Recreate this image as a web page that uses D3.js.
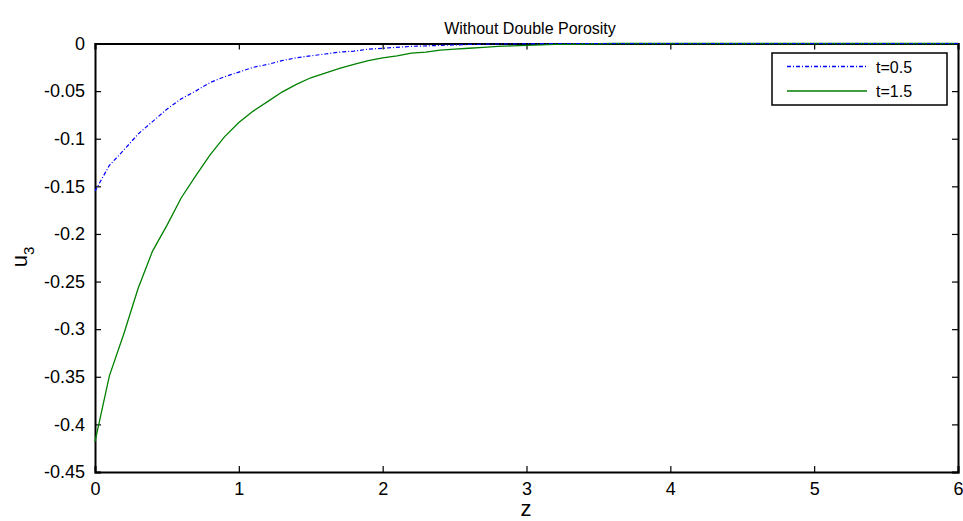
<!DOCTYPE html>
<html>
<head>
<meta charset="utf-8">
<script src="https://cdn.jsdelivr.net/npm/d3@7/dist/d3.min.js"></script>
<style>
body{margin:0;background:#fff;}
text{font-family:"Liberation Sans",Arial,sans-serif;fill:#000;}
</style>
</head>
<body>
<svg id="svg" width="963" height="521"></svg>
<script>
// data
var zA=[0,0.1,0.2,0.3,0.4,0.5,0.6,0.7,0.8,0.9,1.0,1.1,1.2,1.3,1.4,1.5,1.6,1.7,1.8,1.9,2.0,2.2,2.4,2.6,2.8,3.0,3.2,3.4,4,5,6];
var uA=[-0.155,-0.128,-0.112,-0.095,-0.082,-0.069,-0.058,-0.050,-0.041,-0.035,-0.030,-0.025,-0.022,-0.018,-0.015,-0.013,-0.011,-0.009,-0.008,-0.006,-0.005,-0.003,-0.002,-0.001,-0.0005,-0.0002,0,0,0,0,0];
var zB=[0,0.1,0.2,0.3,0.4,0.5,0.6,0.7,0.8,0.9,1.0,1.1,1.2,1.3,1.4,1.5,1.6,1.7,1.8,1.9,2.0,2.1,2.2,2.3,2.4,2.5,2.6,2.7,2.8,2.9,3.0,3.2,3.4,3.6,4,5,6];
var uB=[-0.418,-0.349,-0.305,-0.257,-0.218,-0.191,-0.162,-0.139,-0.117,-0.098,-0.083,-0.071,-0.061,-0.051,-0.043,-0.036,-0.031,-0.026,-0.022,-0.018,-0.015,-0.013,-0.010,-0.009,-0.007,-0.006,-0.005,-0.004,-0.003,-0.0025,-0.002,-0.001,-0.0005,0,0,0,0];
var xTicks=[0,1,2,3,4,5,6];
var yTicks=[0,-0.05,-0.1,-0.15,-0.2,-0.25,-0.3,-0.35,-0.4,-0.45];
var seriesNames=["t=0.5","t=1.5"];

var mLeft=95,mTop=43.5,width=863,height=428.5;
var svg=d3.select("#svg");
var g=svg.append("g").attr("transform","translate("+mLeft+","+mTop+")");

var x=d3.scaleLinear().domain([0,6]).range([0,width]);
var y=d3.scaleLinear().domain([-0.45,0]).range([height,0]);

var line=d3.line().x(d=>x(d[0])).y(d=>y(d[1]));

// ticks on all four sides, pointing inward
g.append("g").attr("transform","translate(0,"+height+")")
    .call(d3.axisBottom(x).tickValues(xTicks).tickSize(-6).tickPadding(10).tickFormat(d3.format("d")));
g.append("g")
    .call(d3.axisTop(x).tickValues(xTicks).tickSize(-6).tickFormat(""));
g.append("g")
    .call(d3.axisLeft(y).tickValues(yTicks).tickSize(-6).tickPadding(10).tickFormat(d=>d==0?"0":String(d)));
g.append("g").attr("transform","translate("+width+",0)")
    .call(d3.axisRight(y).tickValues(yTicks).tickSize(-6).tickFormat(""));

g.selectAll(".domain").attr("stroke","#000").attr("stroke-width",2);
g.selectAll(".tick line").attr("stroke","#000").attr("stroke-width",1.2);
g.selectAll(".tick text").attr("font-size",18).attr("font-family","'Liberation Sans',Arial,sans-serif");

g.append("path").datum(zB.map((z,i)=>[z,uB[i]]))
    .attr("d",line).attr("fill","none").attr("stroke","#008000").attr("stroke-width",1.3);
g.append("path").datum(zA.map((z,i)=>[z,uA[i]]))
    .attr("d",line).attr("fill","none").attr("stroke","#0000ff").attr("stroke-width",1.2)
    .attr("stroke-dasharray","4,2,1,2");

// title and axis labels
svg.append("text").attr("x",530).attr("y",34).attr("text-anchor","middle")
    .style("font-size","16px").text("Without Double Porosity");
svg.append("text").attr("x",526).attr("y",516).attr("text-anchor","middle")
    .style("font-size","22px").text("z");
var yl=svg.append("text").attr("transform","translate(27,257) rotate(-90)").attr("text-anchor","middle")
    .style("font-size","22px");
yl.append("tspan").text("u");
yl.append("tspan").attr("dy",7).style("font-size","15px").text("3");

// legend
var lg=svg.append("g").attr("transform","translate(772,53)");
lg.append("rect").attr("width",175).attr("height",52).attr("fill","#fff").attr("stroke","#000").attr("stroke-width",1.5);
var colors=["#0000ff","#008000"],dashes=["4,2,1,2",null];
seriesNames.forEach((n,i)=>{
    var yy=13.5+i*24.5;
    lg.append("line").attr("x1",15).attr("x2",95).attr("y1",yy).attr("y2",yy)
        .attr("stroke",colors[i]).attr("stroke-width",1.3).attr("stroke-dasharray",dashes[i]);
    lg.append("text").attr("x",104).attr("y",yy+6).style("font-size","16px").text(n);
});
</script>
</body>
</html>
